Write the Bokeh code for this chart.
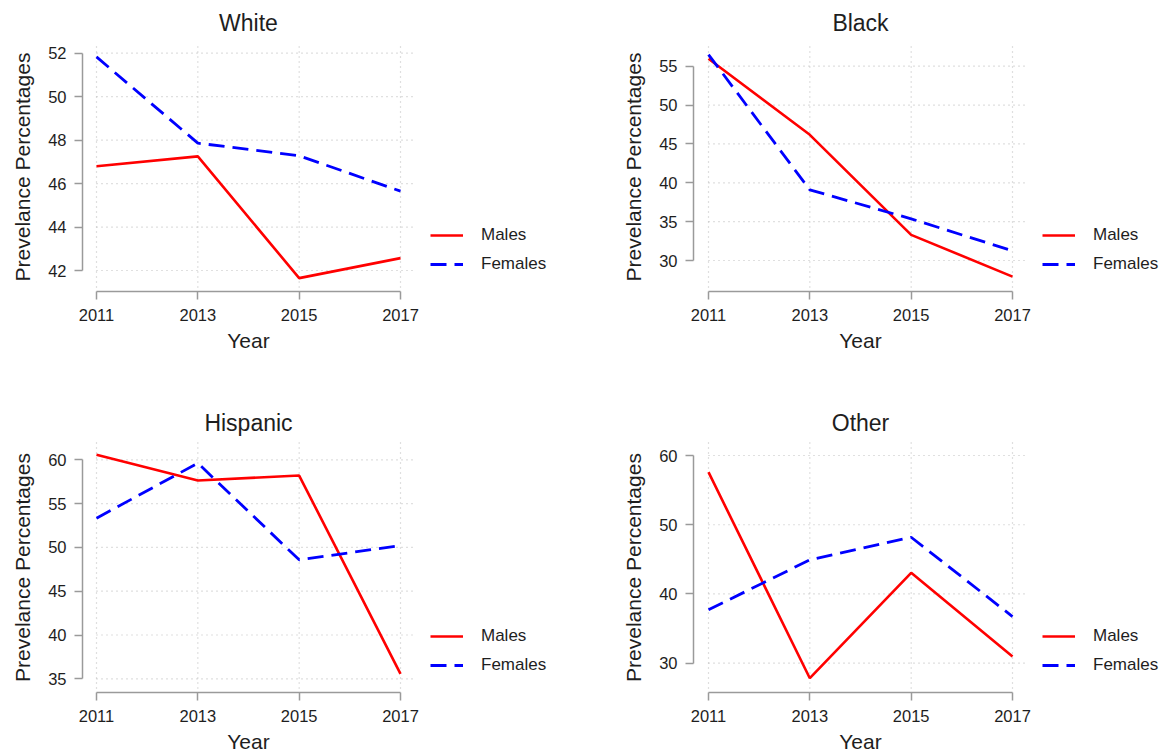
import math
from bokeh.plotting import figure
from bokeh.models import Range1d, FixedTicker, Label, Legend, LegendItem
from bokeh.layouts import column, row
from bokeh.embed import file_html
from bokeh.resources import INLINE

# ---------------- data ----------------
years = [2011, 2013, 2015, 2017]
titles = ["White", "Black", "Hispanic", "Other"]

white_males = [46.80, 47.25, 41.65, 42.57]
white_females = [51.83, 47.86, 47.28, 45.65]
black_males = [55.95, 46.17, 33.30, 27.93]
black_females = [56.50, 39.09, 35.36, 31.24]
hispanic_males = [60.57, 57.64, 58.20, 35.57]
hispanic_females = [53.33, 59.62, 48.58, 50.22]
other_males = [57.59, 27.83, 43.05, 30.97]
other_females = [37.71, 44.93, 48.19, 36.74]

white_yticks = [42, 44, 46, 48, 50, 52]
black_yticks = [30, 35, 40, 45, 50, 55]
hispanic_yticks = [35, 40, 45, 50, 55, 60]
other_yticks = [30, 40, 50, 60]

series_labels = ["Males", "Females"]
x_label = "Year"
y_label = "Prevelance Percentages"

# ---------------- style / layout (page pixels) ----------------
FONT = "Liberation Sans"
TEXT = "#1e1e1e"
AXIS = "#9a9a9a"
GRID = "#c0c0c0"
RED = "#ff0000"
BLUE = "#0000ff"

# fig = (origin x, origin y, width, height); fl = y-axis line x; fb = x-axis line y;
# gt = top of plot region; px = pixels of first/last year; py = pixels of top/bottom y tick
specs = [
    dict(fig=(0, 0, 600, 400), fl=82, fb=291, gt=42, px=(96, 400), py=(52.7, 270.0)),
    dict(fig=(600, 0, 567, 400), fl=693, fb=291, gt=42, px=(708, 1012), py=(65.7, 260.0)),
    dict(fig=(0, 400, 600, 355), fl=82, fb=692, gt=442, px=(96, 400), py=(459.3, 678.3)),
    dict(fig=(600, 400, 567, 355), fl=693, fb=692, gt=442, px=(708, 1012), py=(455.0, 662.7)),
]


def make_panel(title, males, females, yticks, spec):
    ox, oy, w, h = spec["fig"]
    fl, fb, gt = spec["fl"], spec["fb"], spec["gt"]
    px0, px1 = spec["px"]
    py_top, py_bot = spec["py"]
    x0, x1 = years[0], years[-1]
    ytop, ybot = max(yticks), min(yticks)

    sx = (px1 - px0) / (x1 - x0)
    sy = (py_bot - py_top) / (ytop - ybot)

    def xd(px):
        return x0 + (px - px0) / sx

    def yd(py):
        return ybot + (py_bot - py) / sy

    p = figure(width=w, height=h,
               x_range=Range1d(xd(ox), xd(ox + w)), y_range=Range1d(yd(oy + h), yd(oy)),
               output_backend="svg", toolbar_location=None,
               min_border=0, min_border_left=0, min_border_right=0,
               min_border_top=0, min_border_bottom=0,
               outline_line_color=None, background_fill_color="white")
    p.grid.visible = False

    y_axis_loc = xd(fl)
    x_axis_loc = yd(fb)
    grid_top = yd(gt)

    # dotted grid
    gx_end = x1 + 15 / sx
    p.segment(x0=[x0] * len(yticks), x1=[gx_end] * len(yticks), y0=yticks, y1=yticks,
              line_color=GRID, line_dash="1 4", line_width=1.2)
    gy0 = x_axis_loc + 4 / sy
    p.segment(x0=years, x1=years, y0=[gy0] * len(years), y1=[grid_top] * len(years),
              line_color=GRID, line_dash="1 4", line_width=1.2)

    rm = p.line(years, males, line_color=RED, line_width=2.6)
    rf = p.line(years, females, line_color=BLUE, line_width=2.8, line_dash="16 8")

    p.xaxis.fixed_location = x_axis_loc
    p.yaxis.fixed_location = y_axis_loc

    for ax in (p.xaxis[0], p.yaxis[0]):
        ax.axis_line_color = AXIS
        ax.axis_line_width = 1.5
        ax.major_tick_line_color = AXIS
        ax.major_tick_line_width = 1.5
        ax.major_tick_out = 8
        ax.major_tick_in = 0
        ax.minor_tick_out = 0
        ax.minor_tick_in = 0
        ax.major_label_text_font = FONT
        ax.major_label_text_font_size = "16.5px"
        ax.major_label_text_color = TEXT

    p.xaxis.ticker = FixedTicker(ticks=years)
    p.xaxis.bounds = (x0, x1)
    p.xaxis.major_label_standoff = 9
    p.yaxis.ticker = FixedTicker(ticks=yticks)
    p.yaxis.bounds = (ybot, ytop)
    p.yaxis.major_label_orientation = "horizontal"
    p.yaxis.major_label_standoff = 8

    xmid = sum(years) / len(years)
    # title (visual centre ~20px above plot region)
    p.add_layout(Label(x=xmid, y=grid_top, y_offset=20, text=title,
                       text_font=FONT, text_font_size="23px", text_color=TEXT,
                       text_align="center", text_baseline="middle"))
    # x axis title
    p.add_layout(Label(x=xmid, y=x_axis_loc, y_offset=-49, text=x_label,
                       text_font=FONT, text_font_size="21px", text_color=TEXT,
                       text_align="center", text_baseline="middle"))
    # y axis title
    p.add_layout(Label(x=y_axis_loc, y=(grid_top + x_axis_loc) / 2, x_offset=-60,
                       text=y_label, angle=math.pi / 2,
                       text_font=FONT, text_font_size="21px", text_color=TEXT,
                       text_align="center", text_baseline="middle"))

    legend = Legend(items=[LegendItem(label=series_labels[0], renderers=[rm]),
                           LegendItem(label=series_labels[1], renderers=[rf])],
                    location=(px1 + 30 - ox, (oy + h) - (fb - 17)),
                    padding=0, spacing=9, margin=0,
                    glyph_width=33, glyph_height=20, label_height=20,
                    label_standoff=18,
                    label_text_font=FONT, label_text_font_size="17px",
                    label_text_color=TEXT,
                    background_fill_alpha=0, border_line_color=None)
    p.add_layout(legend)
    return p


data = [(white_males, white_females, white_yticks),
        (black_males, black_females, black_yticks),
        (hispanic_males, hispanic_females, hispanic_yticks),
        (other_males, other_females, other_yticks)]

panels = [make_panel(t, m, f, yt, s) for t, (m, f, yt), s in zip(titles, data, specs)]

layout = column(row(panels[0], panels[1]), row(panels[2], panels[3]))

open("out.html", "w").write(file_html(layout, INLINE))
